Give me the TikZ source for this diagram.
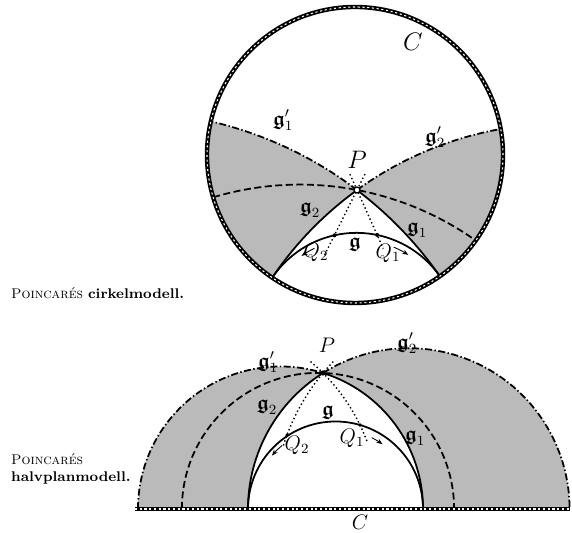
\documentclass[tikz,border=0pt]{standalone}
\usepackage{amsmath,amssymb}
\usetikzlibrary{calc,arrows.meta}
\newcommand{\frg}{\boldsymbol{\mathfrak{g}}}

\begin{document}
\begin{tikzpicture}[x=0.02cm, y=0.02cm]
    \useasboundingbox (0,0) rectangle (572,533);
    \tikzset{
      rim/.style={preaction={draw=black, solid, line width=2.5pt},
                  draw=white, line width=0.6pt, dash pattern=on 1.2pt off 1.5pt},
      region/.style={fill=black!27},
      geo/.style={line width=1pt},
      limit/.style={line width=1pt, dash pattern=on 4pt off 1.4pt on 0.8pt off 1.4pt},
      other/.style={line width=1pt, dash pattern=on 4pt off 2pt},
      perp/.style={line width=0.8pt, dash pattern=on 0.8pt off 1.5pt},
      pil/.style={-{Stealth[length=3.5pt, width=2.6pt]}, line width=0.5pt},
      big/.style={font=\fontsize{15}{17}\selectfont},
      mid/.style={font=\fontsize{11.5}{13}\selectfont},
      legend/.style={font=\fontsize{8}{9.6}\selectfont, anchor=west, align=left}
    }
    % --- cirkelmodell ---
    \coordinate (O) at (355,378);
    \coordinate (P) at ($(O)+(2,-35)$);
    \coordinate (L) at ($(O)+(236:148)$);
    \coordinate (R) at ($(O)+(305:148)$);
    \coordinate (Cg) at ($(O)+(1.57,-179.6)$);
    \coordinate (Q2) at ($(Cg)+(102.6:101.7)$);
    \coordinate (Q1) at ($(Cg)+(78.3:101.7)$);
    % shaded parts
    \fill[region] (L) arc[start angle=146, end angle=125.9, radius=349.3]
      arc[start angle=52.8, end angle=76.9, radius=386.5]
      arc[start angle=166.9, end angle=236, radius=148] -- cycle;
    \fill[region] (R) arc[start angle=35, end angle=52.8, radius=386.5]
      arc[start angle=125.9, end angle=100.07, radius=349.3]
      arc[start angle=10.08, end angle=-55, radius=148] -- cycle;
    % lines through P
    \draw[geo] (L) arc[start angle=146, end angle=35, radius=101.7];
    \draw[geo] (L) arc[start angle=146, end angle=125.9, radius=349.3];
    \draw[limit] (P) arc[start angle=125.9, end angle=100.07, radius=349.3];
    \draw[geo] (R) arc[start angle=35, end angle=52.8, radius=386.5];
    \draw[limit] (P) arc[start angle=52.8, end angle=76.9, radius=386.5];
    \draw[other] ($(O)+(196.6:148)$) arc[start angle=106.6, end angle=54.7, radius=304];
    \draw[perp] ($(P)!-0.35!(Q2)$) -- ($(P)!1.45!(Q2)$);
    \draw[perp] ($(P)!-0.35!(Q1)$) -- ($(P)!1.3!(Q1)$);
    \draw[pil] ($(Cg)+(116:96)$) arc[start angle=116, end angle=125, radius=96];
    \draw[pil] ($(Cg)+(67:95)$) arc[start angle=67, end angle=57, radius=95];
    \fill (Q1) circle[radius=2];
    \fill (Q2) circle[radius=2];
    \draw[fill=white, line width=0.7pt] (P) circle[radius=3];
    \draw[rim] (O) circle[radius=148];
    % labels
    \node[big] (cC) at (413,491) {$C$};
    \node[big] (cP) at (357,373) {$P$};
    \foreach \n/\x/\y/\t in {cg1b/283/413/{\frg_1'}, cg2b/435/396/{\frg_2'},
                             cg2/310/323/{\frg_2}, cg1/417/303/{\frg_1},
                             cg/355/288/{\frg}, cQ2/316/281/{Q_2}, cQ1/388/280/{Q_1}} {
      \node[mid] (\n) at (\x,\y) {$\t$};
    }
    \node[legend] (ccap) at (5,240) {\textsc{Poincarés} \textbf{cirkelmodell.}};

    % --- halvplanmodell ---
    \coordinate (H) at (335.5,24);
    \coordinate (HP) at (323,160);
    \coordinate (A) at (248,24);
    \coordinate (B) at (423,24);
    \coordinate (HQ2) at ($(485.8,24)+(159.59:212.1)$);
    \coordinate (HQ1) at ($(186.9,24)+(25.88:192.4)$);
    % shaded parts
    \fill[region] (138,24) arc[start angle=180, end angle=72.65, radius=142.5]
      arc[start angle=122.24, end angle=180, radius=160.8] -- cycle;
    \fill[region] (B) arc[start angle=0, end angle=72.65, radius=142.5]
      arc[start angle=122.24, end angle=0, radius=160.8] -- cycle;
    % lines through P
    \draw[geo] (A) arc[start angle=180, end angle=0, radius=87.5];
    \draw[limit] (138,24) arc[start angle=180, end angle=72.65, radius=142.5];
    \draw[geo] (HP) arc[start angle=72.65, end angle=0, radius=142.5];
    \draw[geo] (A) arc[start angle=180, end angle=122.24, radius=160.8];
    \draw[limit] (HP) arc[start angle=122.24, end angle=0, radius=160.8];
    \draw[other] (181.9,24) arc[start angle=180, end angle=0, radius=136.1];
    \draw[perp] ($(485.8,24)+(136:212.1)$) arc[start angle=136, end angle=163, radius=212.1];
    \draw[perp] ($(186.9,24)+(50:192.4)$) arc[start angle=50, end angle=20.4, radius=192.4];
    \draw[pil] ($(H)+(130:83)$) arc[start angle=130, end angle=140, radius=83];
    \draw[pil] ($(H)+(63:80)$) arc[start angle=63, end angle=54, radius=80];
    \fill (HQ1) circle[radius=1.8];
    \fill (HQ2) circle[radius=1.8];
    \fill (HP) circle[radius=2.6];
    \draw[rim] (135,24) -- (570,24);
    % labels
    \node[font=\fontsize{13}{15}\selectfont] (hC) at (360,11) {$C$};
    \node[mid] (hP) at (327,188) {$P$};
    \foreach \n/\x/\y/\t in {hg1b/268/171/{\frg_1'}, hg2b/407/190/{\frg_2'},
                             hg2/267/126/{\frg_2}, hg1/415/95/{\frg_1},
                             hg/328/120/{\frg}, hQ2/297/88/{Q_2}, hQ1/352/95/{Q_1}} {
      \node[mid] (\n) at (\x,\y) {$\t$};
    }
    \node[legend] (hcap) at (5,64) {\textsc{Poincarés}\\\textbf{halvplanmodell.}};
\end{tikzpicture}
\end{document}
